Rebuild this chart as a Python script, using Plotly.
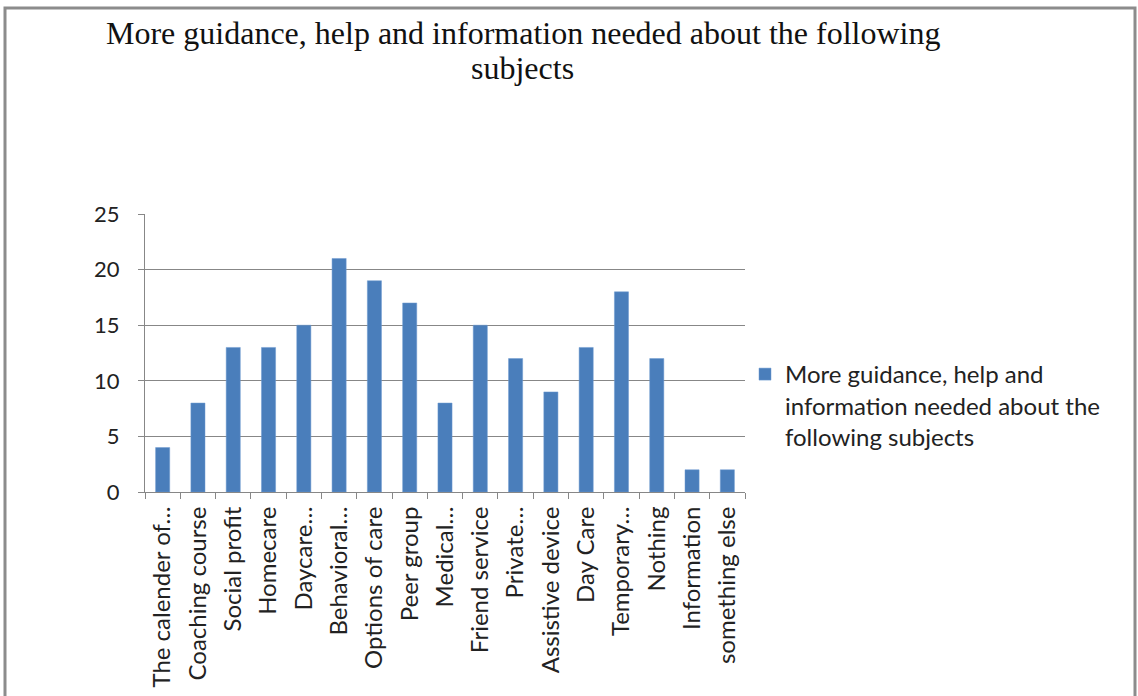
import plotly.graph_objects as go

categories = ["The calender of…", "Coaching course", "Social profit", "Homecare", "Daycare…",
              "Behavioral…", "Options of care", "Peer group", "Medical…", "Friend service",
              "Private…", "Assistive device", "Day Care", "Temporary…", "Nothing",
              "Information", "something else"]
values = [4, 8, 13, 13, 15, 21, 19, 17, 8, 15, 12, 9, 13, 18, 12, 2, 2]
series_name = "More guidance, help and<br>information needed about the<br>following subjects"
title_lines = ["More guidance, help and information needed about the following", "subjects"]
y_ticks = [0, 5, 10, 15, 20, 25]

W, H = 1138, 696
L, R, T, B = 145, 745, 214, 492

def px_x(px):
    return (px - L) / (R - L)

def px_y(py):
    return (B - py) / (B - T)

fig = go.Figure()
fig.add_trace(go.Bar(
    x=categories, y=values, name=series_name,
    marker=dict(color="#4A7EBB", line=dict(color="#6E9AD0", width=0.5)),
    width=0.4, showlegend=True,
))

grid = "#878787"
sans = "Lato, Carlito, Calibri, sans-serif"
label_font = dict(family=sans, size=24, color="#222222")
title_font = dict(family="Liberation Serif, Times New Roman, serif", size=32, color="#111111")

annotations = [
    dict(text=title_lines[0], x=px_x(523), y=px_y(33), xref="paper", yref="paper",
         xanchor="center", yanchor="middle", showarrow=False, font=title_font),
    dict(text=title_lines[1], x=px_x(522), y=px_y(68), xref="paper", yref="paper",
         xanchor="center", yanchor="middle", showarrow=False, font=title_font),
]

fig.update_layout(
    width=W, height=H,
    margin=dict(l=L, r=W - R, t=T, b=H - B, autoexpand=False),
    paper_bgcolor="white", plot_bgcolor="white",
    annotations=annotations,
    showlegend=True,
    legend=dict(x=px_x(745), y=px_y(352), xanchor="left", yanchor="top",
                xref="paper", yref="paper", valign="top",
                font=dict(family=sans, size=24, color="#222222"),
                bgcolor="rgba(0,0,0,0)", itemwidth=30, tracegroupgap=0),
    xaxis=dict(type="category", showgrid=False, showline=True, linecolor=grid, linewidth=1,
               ticks="outside", tickson="boundaries", ticklen=6, tickcolor=grid,
               tickangle=-90, tickfont=label_font, range=[-0.5, len(categories) - 0.5],
               ticklabelstandoff=4, automargin=False),
    yaxis=dict(range=[0, 25], tickvals=y_ticks, showgrid=True, gridcolor=grid, gridwidth=1,
               showline=True, linecolor=grid, linewidth=1, ticks="outside", ticklen=6,
               tickcolor=grid, tickfont=dict(family=sans, size=22, color="#222222"),
               ticklabelstandoff=14, zeroline=False, automargin=False),
    shapes=[dict(type="rect", xref="paper", yref="paper",
                 x0=px_x(5), x1=px_x(1135), y0=px_y(720), y1=px_y(8),
                 line=dict(color="#8C8C8C", width=3), fillcolor="rgba(0,0,0,0)", layer="below")],
)

fig.write_html("out.html")
